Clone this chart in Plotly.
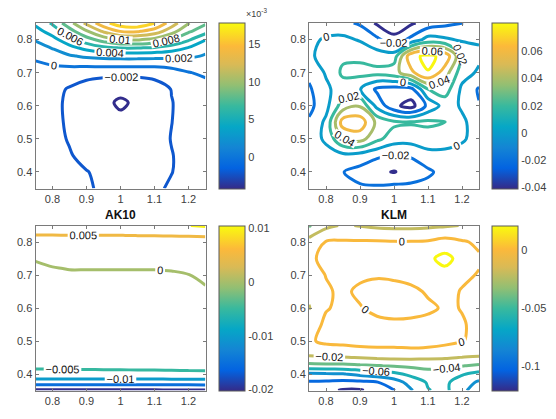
import numpy as np
import plotly.graph_objects as go

# ---------------------------------------------------------------- data
X_GRID = [0.75, 0.80, 0.85, 0.90, 0.95, 1.00, 1.05, 1.10, 1.15, 1.20, 1.25]

# top-left field, values in units of 1e-3
TL_Y = [0.35, 0.40, 0.45, 0.50, 0.55, 0.61, 0.65, 0.70, 0.725, 0.75, 0.775, 0.80, 0.825, 0.85]
TL_MILLI = [
    [-1.0, -1.3, -1.6, -1.85, -2.2, -2.5, -2.5, -2.2, -1.85, -1.5, -1.2],
    [-1.0, -1.3, -1.6, -1.95, -2.3, -2.6, -2.6, -2.35, -2.03, -1.6, -1.2],
    [-1.1, -1.4, -1.9, -2.4, -2.7, -2.9, -2.8, -2.5, -2.05, -1.6, -1.3],
    [-1.2, -1.6, -2.1, -2.6, -3.0, -3.2, -3.0, -2.6, -1.95, -1.5, -1.2],
    [-1.2, -1.65, -2.2, -2.8, -3.3, -3.6, -3.4, -2.8, -2.02, -1.5, -1.2],
    [-1.2, -1.65, -2.25, -2.9, -3.6, -4.25, -3.7, -2.9, -2.05, -1.5, -1.1],
    [-1.0, -1.5, -2.15, -2.7, -3.1, -3.5, -3.3, -2.8, -1.95, -1.3, -0.9],
    [-0.6, -0.8, -1.1, -1.4, -1.5, -1.5, -1.5, -1.4, -0.9, -0.1, 0.4],
    [-0.3, 0.1, 0.4, 0.5, 0.6, 0.6, 0.6, 0.6, 0.8, 1.2, 1.6],
    [0.4, 1.2, 1.8, 2.3, 2.6, 2.7, 2.7, 2.6, 2.4, 2.2, 1.9],
    [1.2, 2.1, 3.4, 4.6, 5.6, 6.1, 6.1, 5.8, 5.1, 3.9, 2.3],
    [2.2, 3.4, 5.2, 7.2, 8.9, 10.1, 10.2, 9.5, 8.1, 6.3, 4.1],
    [3.3, 4.8, 7.2, 9.8, 12.3, 14.1, 14.2, 13.1, 10.8, 8.3, 6.8],
    [4.4, 6.3, 9.3, 12.5, 15.3, 17.2, 17.6, 16.1, 13.1, 10.1, 8.3],
]

# top-right field, values in units of 1e-2
TR_Y = [0.35, 0.40, 0.45, 0.50, 0.55, 0.60, 0.65, 0.70, 0.75, 0.80, 0.85]
TR_CENTI = [
    [-0.3, -0.5, -1.2, -1.7, -1.6, -1.3, -1.4, -1.2, -1.0, -0.5, -0.2],
    [-0.5, -0.9, -1.95, -2.7, -3.6, -4.1, -3.2, -2.4, -1.2, -0.6, -0.3],
    [-0.6, -0.6, -0.5, -0.8, -1.6, -2.2, -1.8, -0.6, -0.5, -0.3, -0.1],
    [-0.9, 0.3, 4.0, 4.8, 2.5, 1.0, 0.8, 1.0, 0.8, 0.1, -0.3],
    [-1.7, 0.4, 7.0, 7.2, 3.5, 2.4, 2.2, 2.4, 2.1, 0.3, -0.8],
    [-2.6, -0.6, 3.0, 3.8, -0.6, -3.5, -4.8, -1.5, 0.8, -0.2, -1.9],
    [-2.3, -0.4, 1.0, 0.1, -2.4, -2.8, -2.6, 2.0, 3.0, -0.4, -2.2],
    [-1.5, 0.2, 2.4, 2.6, 2.6, 3.2, 5.5, 7.9, 5.0, 0.8, -0.3],
    [-0.5, 1.0, 1.6, 1.6, 1.0, 1.0, 7.4, 8.5, 7.4, 2.2, 0.4],
    [-0.4, 0.2, 0.5, -0.2, -1.6, -3.3, -1.5, 0.8, 0.3, -0.3, -0.2],
    [-0.8, -1.0, -1.5, -2.3, -4.3, -5.5, -4.3, -3.2, -2.5, -2.05, -1.3],
]

# AK10 field, values in units of 1e-3
BL_Y = [0.35, 0.36, 0.37, 0.38, 0.39, 0.40, 0.42, 0.45, 0.55, 0.65, 0.70, 0.72, 0.75, 0.80, 0.82, 0.85]
BL_MILLI = [
    [-20.5, -20.5, -20.5, -20.5, -20.5, -20.5, -20.5, -20.5, -20.4, -20.4, -20.3],
    [-18.0, -18.0, -18.0, -18.0, -18.0, -18.0, -18.0, -18.0, -17.9, -17.9, -17.8],
    [-14.0, -14.0, -14.0, -14.0, -14.0, -14.0, -14.0, -14.0, -13.9, -13.9, -13.8],
    [-11.0, -11.0, -11.0, -11.0, -11.0, -11.0, -11.0, -11.0, -10.9, -10.9, -10.8],
    [-9.0, -9.0, -9.0, -9.0, -9.0, -9.0, -8.9, -8.9, -8.8, -8.8, -8.7],
    [-6.5, -6.5, -6.4, -6.4, -6.3, -6.3, -6.2, -6.2, -6.1, -6.0, -6.0],
    [-4.5, -4.5, -4.4, -4.4, -4.3, -4.3, -4.2, -4.2, -4.1, -4.05, -4.0],
    [-3.0, -3.0, -3.0, -2.9, -2.9, -2.9, -2.9, -2.8, -2.8, -2.7, -2.7],
    [-2.0, -2.0, -1.9, -1.9, -1.9, -1.9, -1.9, -1.9, -1.8, -1.7, -1.6],
    [-1.3, -1.1, -1.0, -1.0, -1.0, -1.0, -1.0, -0.9, -0.8, -0.7, -0.3],
    [-0.8, -0.5, -0.4, -0.4, -0.4, -0.4, -0.4, -0.35, -0.3, -0.05, 0.5],
    [-0.5, -0.15, 0.1, 0.1, 0.1, 0.1, 0.1, 0.1, 0.2, 0.4, 0.9],
    [0.2, 0.8, 0.9, 0.9, 0.9, 0.9, 0.9, 1.0, 1.1, 1.2, 1.5],
    [3.4, 3.5, 3.5, 3.5, 3.5, 3.6, 3.6, 3.6, 3.7, 3.8, 3.9],
    [4.85, 4.88, 4.9, 4.92, 4.95, 4.98, 5.05, 5.1, 5.15, 5.2, 5.3],
    [9.0, 9.0, 9.0, 9.1, 9.1, 9.2, 9.3, 9.4, 9.6, 9.9, 10.6],
]

# KLM field, values in units of 1e-2
BR_Y = [0.35, 0.375, 0.40, 0.425, 0.45, 0.475, 0.50, 0.55, 0.60, 0.65, 0.70, 0.75, 0.80, 0.85]
BR_CENTI = [
    [-11.0, -11.5, -12.2, -12.2, -11.3, -10.1, -8.2, -6.1, -5.5, -7.5, -9.2],
    [-10.2, -10.3, -10.5, -10.4, -10.1, -9.0, -7.2, -5.8, -5.6, -7.0, -8.3],
    [-8.4, -8.2, -8.1, -7.5, -7.0, -6.5, -5.5, -4.8, -4.9, -5.8, -6.6],
    [-4.6, -4.5, -4.5, -4.3, -4.1, -3.8, -3.6, -3.4, -3.5, -3.9, -4.3],
    [-2.3, -2.2, -2.1, -1.9, -1.7, -1.6, -1.6, -1.7, -1.8, -2.05, -2.2],
    [-0.9, -0.5, -0.3, -0.15, -0.1, -0.1, -0.05, -0.1, -0.2, -0.5, -0.8],
    [-0.2, 0.3, 0.3, 0.3, 0.3, 0.3, 0.3, 0.3, 0.2, 0.05, -0.3],
    [-0.8, 0.3, 0.5, 0.5, 0.4, 0.3, 0.4, 0.5, 0.4, 0.1, -0.3],
    [-2.1, -0.1, 0.3, 0.1, -0.4, -0.6, -0.6, -0.3, 0.2, -0.05, -0.8],
    [-1.6, -0.2, 0.3, -0.3, -0.7, -0.8, -0.4, 0.2, 0.5, -0.1, -0.7],
    [-0.8, 0.05, 0.4, 0.3, 0.2, 0.4, 0.6, 0.9, 1.3, 0.3, -0.1],
    [-0.3, 0.4, 0.6, 0.6, 0.6, 0.7, 0.9, 1.6, 2.6, 1.3, 0.2],
    [-1.2, 0.1, 0.2, 0.2, 0.2, 0.1, 0.1, 0.2, 0.7, 0.2, -0.3],
    [-4.2, -2.5, -1.8, -2.1, -2.4, -2.5, -2.5, -2.4, -2.2, -1.95, -1.5],
]

X_TICKS = [0.8, 0.9, 1.0, 1.1, 1.2]
X_TICK_TEXT = ["0.8", "0.9", "1", "1.1", "1.2"]
Y_TICKS = [0.4, 0.5, 0.6, 0.7, 0.8]
Y_TICK_TEXT = ["0.4", "0.5", "0.6", "0.7", "0.8"]

# ---------------------------------------------------------------- colours
PARULA = ["#352A87", "#0363E1", "#1485D4", "#06A7C6", "#38B99E",
          "#92BF73", "#D9BA56", "#FCB93A", "#F9FB0E"]
PARULA_POS = [0.0, 0.125, 0.25, 0.375, 0.5, 0.625, 0.75, 0.86, 1.0]
PARULA_RGB = [tuple(int(h[i:i + 2], 16) for i in (1, 3, 5)) for h in PARULA]
PARULA_SCALE = [[p, c] for p, c in zip(PARULA_POS, PARULA)]


def parula_at(t):
    t = min(max(t, 0.0), 1.0)
    for i in range(len(PARULA_POS) - 1):
        if t <= PARULA_POS[i + 1]:
            break
    f = (t - PARULA_POS[i]) / (PARULA_POS[i + 1] - PARULA_POS[i])
    a, b = PARULA_RGB[i], PARULA_RGB[i + 1]
    r, g, bl = (round(a[k] + (b[k] - a[k]) * f) for k in range(3))
    return f"rgb({r},{g},{bl})"


def level_scale(start, end, size, cmin, cmax):
    """Colour each contour level as its value sits in [cmin, cmax]."""
    n = int(round((end - start) / size)) + 1
    levels = [start + k * size for k in range(n)]
    return [[k / (n - 1), parula_at((lv - cmin) / (cmax - cmin))]
            for k, lv in enumerate(levels)]


FONT = "Liberation Sans, Arial, sans-serif"
W, H = 556, 419


def px_x(p):
    return p / W


def px_y(p):
    return 1 - p / H


# panel geometry in pixels: (left, right, top, bottom, colorbar left)
PANELS = {
    "tl": (35.5, 205.5, 23.0, 188.5, 219.0),
    "tr": (309.0, 479.0, 23.0, 188.5, 491.5),
    "bl": (35.5, 205.5, 225.5, 390.5, 219.0),
    "br": (309.0, 479.0, 225.5, 390.5, 491.5),
}

SPECS = [
    # key, axis suffix, y grid, z, unit, level start/end/size (raw),
    # colour range (raw), colourbar range (shown units), colourbar ticks
    ("tl", "", TL_Y, TL_MILLI, 1e-3, (-0.004, 0.016, 0.002), (-0.00415, 0.0178),
     (-4.15, 17.8), ([0, 5, 10, 15], ["0", "5", "10", "15"])),
    ("tr", "2", TR_Y, TR_CENTI, 1e-2, (-0.04, 0.08, 0.02), (-0.041, 0.081),
     (-0.041, 0.081), ([-0.04, -0.02, 0, 0.02, 0.04, 0.06],
                       ["-0.04", "-0.02", "0", "0.02", "0.04", "0.06"])),
    ("bl", "3", BL_Y, BL_MILLI, 1e-3, (-0.02, 0.01, 0.005), (-0.0202, 0.0105),
     (-0.0202, 0.0105), ([-0.02, -0.01, 0, 0.01], ["-0.02", "-0.01", "0", "0.01"])),
    ("br", "4", BR_Y, BR_CENTI, 1e-2, (-0.12, 0.02, 0.02), (-0.121, 0.021),
     (-0.121, 0.021), ([-0.1, -0.05, 0], ["-0.1", "-0.05", "0"])),
]

fig = go.Figure()
layout = dict(
    width=W, height=H, margin=dict(l=0, r=0, t=0, b=0),
    paper_bgcolor="white", plot_bgcolor="white",
    font=dict(family=FONT, size=11, color="#404040"),
    showlegend=False,
)

for key, suf, ygrid, zvals, unit, (s, e, d), (cmin, cmax), (bmin, bmax), (tv, tt) in SPECS:
    left, right, top, bottom, cbl = PANELS[key]
    z = np.array(zvals, dtype=float) * unit
    xa, ya = "x" + suf, "y" + suf
    fig.add_trace(go.Contour(
        x=X_GRID, y=ygrid, z=z, xaxis=xa, yaxis=ya,
        contours=dict(coloring="lines", start=s, end=e, size=d,
                      showlabels=True,
                      labelfont=dict(family=FONT, size=11, color="#111111")),
        colorscale=level_scale(s, e, d, cmin, cmax),
        line=dict(width=3, smoothing=1.0),
        showscale=False, hoverinfo="skip",
    ))
    # continuous colour bar beside the panel
    fig.add_trace(go.Scatter(
        x=[None], y=[None], xaxis=xa, yaxis=ya, mode="markers",
        marker=dict(color=[bmin], cmin=bmin, cmax=bmax, colorscale=PARULA_SCALE,
                    showscale=True,
                    colorbar=dict(
                        x=px_x(cbl), xanchor="left", xpad=0,
                        y=(px_y(top) + px_y(bottom)) / 2, yanchor="middle", ypad=0,
                        len=(bottom - top) / H, lenmode="fraction",
                        thickness=25.5, thicknessmode="pixels",
                        outlinewidth=1, outlinecolor="#5a5a5a",
                        tickvals=tv, ticktext=tt, ticks="",
                        tickfont=dict(family=FONT, size=11, color="#404040"),
                    )),
        hoverinfo="skip", showlegend=False,
    ))
    axis_common = dict(showgrid=False, zeroline=False, showline=True,
                       linecolor="#7a7a7a", linewidth=1, mirror="ticks",
                       ticks="inside", ticklen=3, tickcolor="#7a7a7a",
                       tickfont=dict(family=FONT, size=11, color="#404040"))
    layout["xaxis" + suf] = dict(domain=[px_x(left), px_x(right)], range=[0.75, 1.25],
                                 tickvals=X_TICKS, ticktext=X_TICK_TEXT, anchor=ya,
                                 **axis_common)
    layout["yaxis" + suf] = dict(domain=[px_y(bottom), px_y(top)], range=[0.35, 0.85],
                                 tickvals=Y_TICKS, ticktext=Y_TICK_TEXT, anchor=xa,
                                 **axis_common)

fig.update_layout(**layout)

annotations = [
    dict(text="<b>AK10</b>", x=px_x(120.5), y=px_y(215), xref="paper", yref="paper",
         showarrow=False, xanchor="center", yanchor="middle",
         font=dict(family=FONT, size=12, color="#111111")),
    dict(text="<b>KLM</b>", x=px_x(394), y=px_y(215), xref="paper", yref="paper",
         showarrow=False, xanchor="center", yanchor="middle",
         font=dict(family=FONT, size=12, color="#111111")),
    dict(text="×10<sup>-3</sup>", x=px_x(244), y=px_y(13), xref="paper", yref="paper",
         showarrow=False, xanchor="left", yanchor="middle",
         font=dict(family=FONT, size=9, color="#404040")),
]
fig.update_layout(annotations=annotations)

fig.write_html("out.html")
